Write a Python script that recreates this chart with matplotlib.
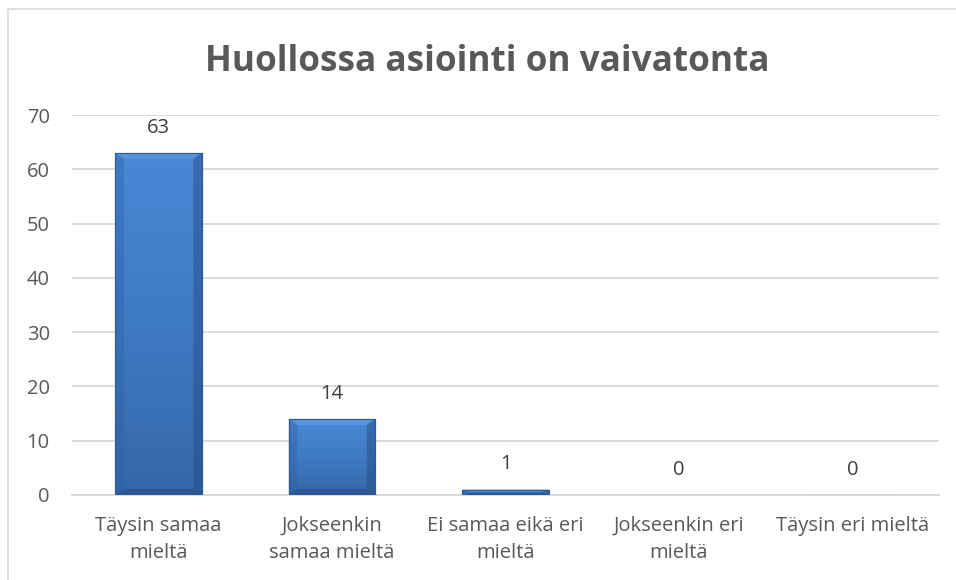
import numpy as np
import matplotlib
matplotlib.use("Agg")
import matplotlib.pyplot as plt
from matplotlib.patches import Rectangle, Polygon
from matplotlib.colors import LinearSegmentedColormap

# Data
categories = ["Täysin samaa\nmieltä", "Jokseenkin\nsamaa mieltä", "Ei samaa eikä eri\nmieltä",
              "Jokseenkin eri\nmieltä", "Täysin eri mieltä"]
values = [63, 14, 1, 0, 0]
title = "Huollossa asiointi on vaivatonta"

plt.rcParams['font.family'] = ['Open Sans', 'DejaVu Sans']
text_col = '#595959'
grid_col = '#D9D9D9'

fig = plt.figure(figsize=(9.56, 5.8), dpi=100)
ax = fig.add_axes([0.0753, 0.1466, 0.9069, 0.6551])

# chart frame
fig.patches.append(Rectangle((8 / 956, -0.05), 1.1, 1 - 9 / 580 + 0.05, transform=fig.transFigure,
                             fill=False, edgecolor=grid_col, linewidth=1.2))

x = np.arange(len(values))
bars = ax.bar(x, values, width=0.5, color='#3D78C2', edgecolor='#2B5A96', linewidth=0.8, zorder=3)

# gradient + bevel for each bar
cmap = LinearSegmentedColormap.from_list('bar', ['#3567A8', '#3F7AC4', '#4A88D6'])
grad = np.linspace(0, 1, 256).reshape(-1, 1)
for b in bars:
    h = b.get_height()
    if h <= 0:
        continue
    x0, w = b.get_x(), b.get_width()
    im = ax.imshow(grad, extent=[x0, x0 + w, 0, h], origin='lower', cmap=cmap,
                   aspect='auto', zorder=3.1)
    im.set_clip_path(b)
    # bevel sizes from bar geometry
    bx = w * 0.1
    by = min(h * 0.5, 1.1)
    ax.add_patch(Polygon([[x0, h], [x0 + w, h], [x0 + w - bx, h - by], [x0 + bx, h - by]],
                         closed=True, facecolor='#5B97DE', edgecolor='none', alpha=0.85, zorder=3.2))
    ax.add_patch(Polygon([[x0, 0], [x0 + bx, by], [x0 + bx, h - by], [x0, h]],
                         closed=True, facecolor='#2E5E9E', edgecolor='none', alpha=0.35, zorder=3.2))
    ax.add_patch(Polygon([[x0 + w, 0], [x0 + w - bx, by], [x0 + w - bx, h - by], [x0 + w, h]],
                         closed=True, facecolor='#23497D', edgecolor='none', alpha=0.45, zorder=3.2))
    ax.add_patch(Polygon([[x0, 0], [x0 + w, 0], [x0 + w - bx, by], [x0 + bx, by]],
                         closed=True, facecolor='#23497D', edgecolor='none', alpha=0.5, zorder=3.2))
    ax.add_patch(Rectangle((x0, 0), w, h, fill=False, edgecolor='#2B5A96', linewidth=0.8, zorder=3.3))

for xi, v in zip(x, values):
    ax.annotate(str(v), (xi, v), xytext=(0, 11), textcoords='offset points',
                ha='center', va='bottom', fontsize=14.5, color='#404040')

ax.set_xlim(-0.5, len(values) - 0.5)
ax.set_ylim(0, 70)
ax.set_yticks(range(0, 71, 10))
ax.set_xticks(x)
ax.set_xticklabels(categories, fontsize=14.5, color=text_col, linespacing=1.5)
ax.tick_params(axis='y', labelsize=14.5, labelcolor=text_col, length=0, pad=16)
ax.tick_params(axis='x', length=0, pad=15)
ax.grid(axis='y', color=grid_col, linewidth=1.3, zorder=0)
ax.set_axisbelow(True)
for s in ['top', 'right', 'left']:
    ax.spines[s].set_visible(False)
ax.spines['bottom'].set_color(grid_col)
ax.spines['bottom'].set_linewidth(1.3)

fig.text(0.51, 1 - 71 / 580, title, ha='center', va='baseline', fontsize=25.3, fontweight='bold',
         color=text_col)

fig.savefig('out.png', dpi=100)
